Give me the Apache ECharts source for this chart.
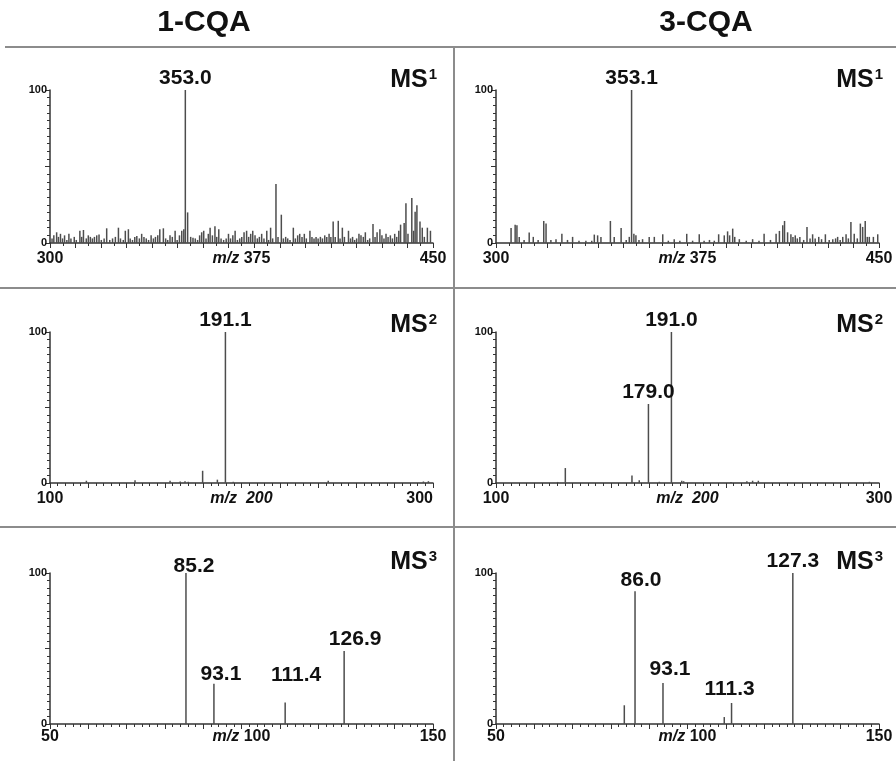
<!DOCTYPE html>
<html><head><meta charset="utf-8">
<script src="https://cdn.jsdelivr.net/npm/echarts@6/dist/echarts.min.js"></script>
<style>html,body{margin:0;padding:0;background:#fff}#c{width:896px;height:761px}</style>
</head><body><div id="c"></div>
<script>
// ---------- DATA ----------
const columnTitles = ['1-CQA', '3-CQA'];
const stageNames = ['MS', 'MS', 'MS'];
const stageOrders = ['1', '2', '3'];

// x tick labels (min, middle, max) per MS stage
const ticksMS1 = ['300', '375', '450'];
const ticksMS2 = ['100', '200', '300'];
const ticksMS3 = ['50', '100', '150'];
const axisUnit = 'm/z';

// 1-CQA MS1: labelled peak and other ions [m/z, relative intensity]
const ms1_1cqa_peaks = [[353.0, 100]];
const ms1_1cqa_peakLabels = ['353.0'];
const ms1_1cqa_ions = [
 [300.8,3],[301.5,5],[302.6,7],[303.3,4],[304.1,6],[304.9,3],[305.7,5],[306.6,2],[307.4,6],[308.2,3],
 [309.5,4],[310.3,2],[311.7,8],[312.4,4],[313.1,8.5],[314.2,3],[315,5],[315.8,4],[316.6,3],[317.4,4],
 [318.3,5],[319.2,5.5],[320.1,2],[321.2,3],[322.2,9.6],[323.4,2],[324.5,3],[325.6,4],[326.8,10],[327.6,3],
 [328.7,2],[329.5,8],[330.7,9],[331.4,3],[332.3,2],[333.2,4],[334,4.5],[335,3],[335.9,6],[336.8,4],
 [337.7,3],[338.6,2],[339.6,5],[340.5,3],[341.3,4],[342.2,5],[343,9],[344.4,9.6],[345.3,3],[346.1,2],
 [347,5],[347.9,4],[349,8],[349.8,2],[350.7,5],[351.6,8],[352.4,9],[353.9,20],[355.1,4],[356,3.5],
 [356.9,3],[357.8,2],[358.6,5],[359.4,7],[360.2,8],[361.1,3],[362,6],[362.7,10],[363.6,5],[364.6,11],
 [365.3,4],[366.1,9],[367,3],[368,2],[369,3],[369.9,6],[370.7,3],[371.6,5],[372.5,8],[373.4,2],
 [374.3,3],[375.1,4],[376,7],[377,8],[377.8,4],[378.6,6],[379.4,8],[380.3,5],[381.2,3],[382,4],
 [382.9,6],[383.8,3],[384.9,8],[385.6,2],[386.4,10],[387.2,3],[388.5,38.5],[389.3,4],[390.6,18.5],[391.4,3],
 [392.3,4],[393.1,3],[394,2],[395.3,10],[396.1,3],[397,5],[397.8,6],[398.7,4],[399.6,6],[400.4,3],
 [401.8,8],[402.6,4],[403.4,3],[404.2,4],[405,3],[405.9,4],[406.7,3],[407.6,5],[408.4,4],[409.3,6],
 [410,4],[410.9,14],[411.7,4],[412.9,14.5],[413.6,3],[414.5,10],[415.3,4],[416.9,8],[417.7,3],[418.5,4],
 [419.3,2],[420.1,3],[421,6],[421.8,5],[422.7,4],[423.5,7],[424.4,2],[425.2,3],[426.5,12.4],[427.3,4],
 [428.1,7],[429.2,9],[430,5],[430.8,3],[431.6,6],[432.4,4],[433.3,5],[434.1,3],[435,6],[435.8,4],
 [436.6,8],[437.3,12],[438.7,13],[439.4,26],[440.2,6],[441.7,29.4],[442.4,8],[443,20.5],[443.7,24.6],[444.9,14],
 [445.8,10],[446.6,4],[447.8,10],[449,8]
];

// 3-CQA MS1
const ms1_3cqa_peaks = [[353.1, 100]];
const ms1_3cqa_peakLabels = ['353.1'];
const ms1_3cqa_ions = [
 [305.9,9.8],[307.5,12],[308.2,11.6],[309.1,4],[311,2],[313,6.8],[314.6,4],[316.5,2],[318.7,14.4],[319.6,12.7],
 [321.5,2],[323.5,2.5],[325.8,6],[328,2],[330,4],[332.5,1.5],[335.2,1.5],[337.5,1.5],[338.5,5.5],[339.8,5],
 [341.1,4],[344.8,14.4],[346.3,4],[349,9.8],[351,2],[352.2,4],[354,6],[354.8,5],[356,2],[357.4,2.5],
 [360,4],[362,4],[365.3,5.7],[367.5,1.5],[369.8,2.5],[372,1.5],[374.7,6],[377,1.5],[379.6,5.7],[381.5,1.5],
 [383.6,2],[385.5,1.5],[387.2,5.7],[389.4,5],[390.7,7.6],[391.5,5],[392.7,9.4],[393.5,4],[395.3,2.5],[398,1.5],
 [400.5,2.5],[403,1.5],[405,6],[407.5,2],[409.7,6],[411,7.9],[412.3,11.6],[413,14.4],[414.2,7],[415.5,5.7],
 [416.3,4],[417.2,5],[418,3],[419,4],[420.5,2],[421.8,10.5],[423,3],[424,5.7],[425,3],[426.4,4],
 [427.5,2.5],[429,5.7],[430.5,2],[431.9,2.5],[433,3],[433.8,4],[434.8,2],[435.8,4],[437.1,5.7],[438,3],
 [439,13.8],[440.3,6],[441.5,3],[442.7,12.7],[443.6,10.5],[444.6,14.4],[445.4,4],[446.2,4],[447.8,4],[449.5,5.7]
];

// 1-CQA MS2
const ms2_1cqa_peaks = [[191.6, 100]];
const ms2_1cqa_peakLabels = ['191.1'];
const ms2_1cqa_ions = [
 [119,1.5],[144.4,1.8],[162.7,1.5],[168,1],[170.5,1.2],[172.2,0.8],[179.7,8.1],[187.4,2.2],[195.7,0.8],
 [245.3,1.5],[295,1],[297.6,1.2]
];

// 3-CQA MS2
const ms2_3cqa_peaks = [[179.6, 52.3], [191.6, 100]];
const ms2_3cqa_peakLabels = ['179.0', '191.0'];
const ms2_3cqa_ions = [
 [132.2,0.7],[136.2,9.9],[171,5],[174.8,1.8],[185.3,0.8],[197,1.5],[198,1.2],[222.7,0.6],[231,1.2],
 [234,1.5],[237,1.5],[295,0.8]
];

// 1-CQA MS3
const ms3_1cqa_peaks = [[85.5, 100], [92.8, 26.7], [111.4, 14.3], [126.8, 48.3]];
const ms3_1cqa_peakLabels = ['85.2', '93.1', '111.4', '126.9'];
const ms3_1cqa_ions = [];

// 3-CQA MS3
const ms3_3cqa_peaks = [[86.3, 87.9], [93.6, 27.2], [111.5, 13.9], [127.5, 100]];
const ms3_3cqa_peakLabels = ['86.0', '93.1', '111.3', '127.3'];
const ms3_3cqa_ions = [[83.5, 12.4], [109.6, 4.6]];

// ---------- LAYOUT / STYLE ----------
const FONT = '"Liberation Sans", Arial, sans-serif';
const ink = '#111';
const axisColor = '#333';
const barColor = '#4d4d4d';
const ruleColor = '#8c8c8c';
const colLeft = [50, 496];
const plotW = 383;
const rowTop = [90, 332, 573];
const rowH = [153, 151, 151];
const labelMargin = [8, 8, 5];
const msTitleY = [80, 325, 562];
// small label nudges [dx, dy] per panel, per labelled peak (presentation only)
const labelNudge = [
  [[0, 2]],
  [[0, 2]],
  [[0, 2]],
  [[0, 2], [0, 2]],
  [[8, 7], [7, 4], [11, -14], [11, 2]],
  [[6, 2], [7, 0], [-2, 0], [0, 2]]
];

const stages = [
  {xmin: 300, xmax: 450, tick: 10, minor: 2, step: 75, labels: ticksMS1, italicAll: false},
  {xmin: 100, xmax: 300, tick: 20, minor: 5, step: 100, labels: ticksMS2, italicAll: true},
  {xmin: 50, xmax: 150, tick: 10, minor: 5, step: 50, labels: ticksMS3, italicAll: false}
];

const panels = [
  {row: 0, col: 0, peaks: ms1_1cqa_peaks, peakLabels: ms1_1cqa_peakLabels, ions: ms1_1cqa_ions},
  {row: 0, col: 1, peaks: ms1_3cqa_peaks, peakLabels: ms1_3cqa_peakLabels, ions: ms1_3cqa_ions},
  {row: 1, col: 0, peaks: ms2_1cqa_peaks, peakLabels: ms2_1cqa_peakLabels, ions: ms2_1cqa_ions, alignMax: 'right'},
  {row: 1, col: 1, peaks: ms2_3cqa_peaks, peakLabels: ms2_3cqa_peakLabels, ions: ms2_3cqa_ions},
  {row: 2, col: 0, peaks: ms3_1cqa_peaks, peakLabels: ms3_1cqa_peakLabels, ions: ms3_1cqa_ions},
  {row: 2, col: 1, peaks: ms3_3cqa_peaks, peakLabels: ms3_3cqa_peakLabels, ions: ms3_3cqa_ions}
];

const grid = [], xAxis = [], yAxis = [], series = [];
panels.forEach((p, i) => {
  const s = stages[p.row];
  grid.push({left: colLeft[p.col], top: rowTop[p.row], width: plotW, height: rowH[p.row], containLabel: false});
  xAxis.push({
    gridIndex: i, type: 'value', position: 'bottom', min: s.xmin, max: s.xmax, interval: s.tick,
    axisLine: {show: true, onZero: false, lineStyle: {color: axisColor, width: 1.5}},
    axisTick: {show: true, inside: false, length: 5, lineStyle: {color: axisColor, width: 1}},
    minorTick: {show: true, splitNumber: s.minor, length: 3, lineStyle: {color: axisColor, width: 1}},
    axisLabel: {show: false}, splitLine: {show: false}, minorSplitLine: {show: false}
  });
  const vals = [s.xmin, s.xmin + s.step, s.xmin + 2 * s.step];
  xAxis.push({
    gridIndex: i, type: 'value', position: 'bottom', min: s.xmin, max: s.xmax, interval: s.step,
    axisLine: {show: false}, axisTick: {show: false}, splitLine: {show: false},
    axisLabel: {
      show: true, margin: labelMargin[p.row], color: ink, fontSize: 16, fontWeight: 'bold', fontFamily: FONT,
      alignMaxLabel: p.alignMax || null,
      formatter: (v) => {
        const k = vals.findIndex(t => Math.abs(t - v) < 1e-6);
        if (k < 0) return '';
        const t = s.labels[k];
        if (k === 1) return s.italicAll ? '{i|' + axisUnit + '  ' + t + '}' : '{i|' + axisUnit + '} ' + t;
        return t;
      },
      rich: {i: {fontStyle: 'italic', fontWeight: 'bold', fontSize: 16, fontFamily: FONT, color: ink}}
    }
  });
  yAxis.push({
    gridIndex: i, type: 'value', min: 0, max: 100, interval: 50,
    axisLine: {show: true, lineStyle: {color: axisColor, width: 1.5}},
    axisTick: {show: true, length: 5, lineStyle: {color: axisColor, width: 1}},
    minorTick: {show: true, splitNumber: 10, length: 3, lineStyle: {color: axisColor, width: 1}},
    splitLine: {show: false}, minorSplitLine: {show: false},
    axisLabel: {show: true, margin: 3, color: ink, fontSize: 11, fontWeight: 'bold', fontFamily: FONT,
      formatter: v => (v === 0 || v === 100) ? String(v) : ''}
  });
  const data = p.ions.map(d => d.slice());
  p.peaks.forEach((d, k) => data.push({
    value: d.slice(),
    label: {show: true, formatter: p.peakLabels[k], offset: labelNudge[i][k]}
  }));
  data.sort((a, b) => (Array.isArray(a) ? a[0] : a.value[0]) - (Array.isArray(b) ? b[0] : b.value[0]));
  series.push({
    type: 'bar', xAxisIndex: 2 * i, yAxisIndex: i, barWidth: 1.5, data: data,
    itemStyle: {color: barColor}, silent: true,
    label: {show: false, position: 'top', distance: 3, color: ink, fontSize: 21, fontWeight: 'bold', fontFamily: FONT}
  });
});

const graphic = [
  {type: 'line', shape: {x1: 5, y1: 47, x2: 896, y2: 47}, style: {stroke: ruleColor, lineWidth: 2}},
  {type: 'line', shape: {x1: 0, y1: 288, x2: 896, y2: 288}, style: {stroke: ruleColor, lineWidth: 2}},
  {type: 'line', shape: {x1: 0, y1: 527, x2: 896, y2: 527}, style: {stroke: ruleColor, lineWidth: 2}},
  {type: 'line', shape: {x1: 454, y1: 47, x2: 454, y2: 761}, style: {stroke: ruleColor, lineWidth: 2}},
  {type: 'text', x: 204, y: 23, style: {text: columnTitles[0], fontSize: 30, fontWeight: 'bold', fontFamily: FONT, fill: ink, align: 'center', verticalAlign: 'middle'}},
  {type: 'text', x: 706, y: 23, style: {text: columnTitles[1], fontSize: 30, fontWeight: 'bold', fontFamily: FONT, fill: ink, align: 'center', verticalAlign: 'middle'}}
];
panels.forEach(p => {
  graphic.push({type: 'text', x: colLeft[p.col] + plotW + 4, y: msTitleY[p.row],
    style: {
      text: '{m|' + stageNames[p.row] + '}{s|' + stageOrders[p.row] + '}',
      align: 'right', verticalAlign: 'middle', fill: ink,
      rich: {
        m: {fontSize: 25, fontWeight: 'bold', fontFamily: FONT, fill: ink, color: ink, lineHeight: 26},
        s: {fontSize: 15, fontWeight: 'bold', fontFamily: FONT, fill: ink, color: ink, verticalAlign: 'top', lineHeight: 14, padding: [0, 0, 0, 1]}
      }
    }});
});

const chart = echarts.init(document.getElementById('c'));
chart.setOption({
  animation: false,
  backgroundColor: '#fff',
  grid, xAxis, yAxis, series, graphic
});
</script>
</body></html>
